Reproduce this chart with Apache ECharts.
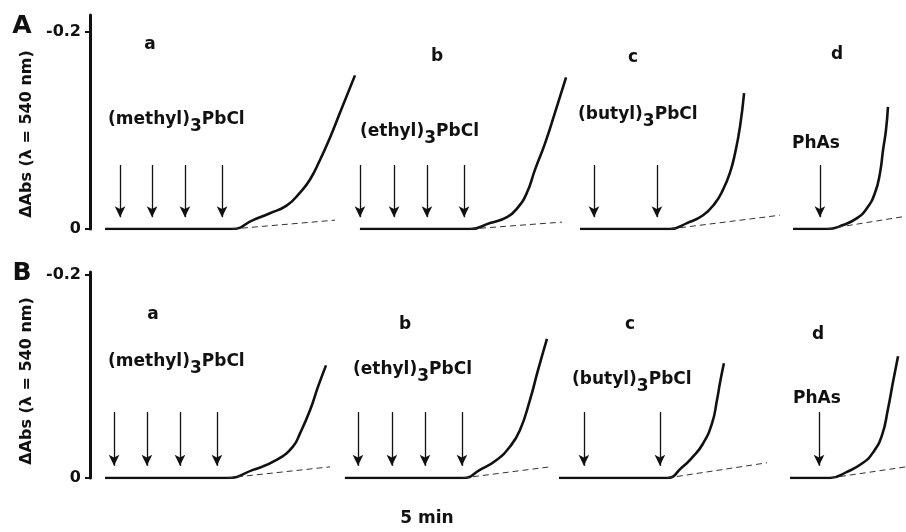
<!DOCTYPE html>
<html>
<head>
<meta charset="utf-8">
<script src="https://cdn.jsdelivr.net/npm/echarts@6/dist/echarts.min.js"></script>
<style>
  html, body { margin: 0; padding: 0; background: #fff; }
  #chart { width: 906px; height: 532px; }
</style>
</head>
<body>
<div id="chart"></div>
<script>
// time in min, ΔAbs at 540 nm (negative = up)
// panel A
const timeAa = [0.70, 6.61, 7.59, 8.38, 9.17, 9.78, 10.24, 10.71, 11.18, 11.64, 12.34]
const absAa = [0, 0, -0.009, -0.016, -0.024, -0.037, -0.050, -0.070, -0.093, -0.118, -0.156]
const timeAb = [12.57, 17.70, 18.63, 19.42, 19.93, 20.35, 20.72, 21.19, 21.65, 22.17]
const absAb = [0, 0, -0.006, -0.012, -0.022, -0.037, -0.060, -0.087, -0.118, -0.154]
const timeAc = [22.82, 27.01, 27.80, 28.55, 29.10, 29.48, 29.80, 30.04, 30.27, 30.46]
const absAc = [0, 0, -0.006, -0.014, -0.026, -0.040, -0.057, -0.077, -0.104, -0.138]
const timeAd = [32.74, 34.32, 35.07, 35.72, 36.18, 36.56, 36.79, 36.93, 37.07, 37.16]
const absAd = [0, 0, -0.004, -0.011, -0.021, -0.037, -0.057, -0.080, -0.101, -0.124]
// extrapolated blanks: [t0, t1], [abs0, abs1]
const blankTimeA = [[6.61, 11.41], [17.70, 21.98], [27.01, 32.13], [34.32, 38.0]]
const blankAbsA = [[0, -0.009], [0, -0.007], [0, -0.014], [0, -0.013]]
// additions (arrows)
const addTimeA = [1.40, 2.89, 4.42, 6.15, 12.57, 14.16, 15.69, 17.42, 23.47, 26.40, 33.99]

// panel B
const timeBa = [0.70, 6.38, 7.59, 8.71, 9.45, 9.78, 10.25, 10.62, 10.99]
const absBa = [0, 0, -0.008, -0.018, -0.031, -0.044, -0.067, -0.090, -0.111]
const timeBb = [11.87, 17.37, 18.16, 18.95, 19.56, 20.02, 20.49, 20.86, 21.28]
const absBb = [0, 0, -0.008, -0.018, -0.031, -0.047, -0.077, -0.106, -0.137]
const timeBc = [21.84, 26.87, 27.55, 28.08, 28.55, 28.97, 29.20, 29.34, 29.52]
const absBc = [0, 0, -0.010, -0.021, -0.034, -0.054, -0.077, -0.094, -0.113]
const timeBd = [32.60, 34.46, 35.25, 36.00, 36.46, 36.88, 37.16, 37.39, 37.63]
const absBd = [0, 0, -0.006, -0.015, -0.025, -0.042, -0.068, -0.094, -0.120]
const blankTimeB = [[6.38, 11.18], [17.37, 21.42], [26.87, 31.53], [34.46, 38.0]]
const blankAbsB = [[0, -0.011], [0, -0.011], [0, -0.015], [0, -0.011]]
const addTimeB = [1.12, 2.65, 4.19, 5.91, 12.48, 14.06, 15.60, 17.32, 23.00, 26.54, 33.95]

const yTicks = [0, -0.2]
const compounds = ['(methyl)', '(ethyl)', '(butyl)', 'PhAs']
const traceNames = ['a', 'b', 'c', 'd']

const FONT = 'DejaVu Sans'

function pairs(t, v) {
  return t.map((x, i) => [x, v[i]])
}

function traceSeries(t, v, gi) {
  return {
    type: 'line',
    xAxisIndex: gi,
    yAxisIndex: gi,
    data: pairs(t, v),
    smooth: 0.5,
    showSymbol: false,
    lineStyle: { color: '#111', width: 2.6 },
    silent: true
  }
}

function blankSeries(t, v, gi) {
  return {
    type: 'line',
    xAxisIndex: gi,
    yAxisIndex: gi,
    data: pairs(t, v),
    showSymbol: false,
    lineStyle: { color: '#333', width: 1, type: [6, 4] },
    silent: true
  }
}

function arrowSeries(times, top, tip, gi) {
  return {
    type: 'line',
    xAxisIndex: gi,
    yAxisIndex: gi,
    data: [],
    markLine: {
      silent: true,
      symbol: ['none', 'arrow'],
      symbolSize: [8, 11],
      label: { show: false },
      lineStyle: { color: '#111', width: 1.3, type: 'solid' },
      data: times.map(t => [{ coord: [t, top] }, { coord: [t, tip] }])
    }
  }
}

function yAxis(gi, min) {
  return {
    type: 'value',
    gridIndex: gi,
    min: min,
    max: 0,
    inverse: true,
    splitLine: { show: false },
    axisLine: { show: true, lineStyle: { color: '#111', width: 3 } },
    axisTick: { show: true, customValues: yTicks, length: 5, lineStyle: { color: '#111', width: 2 } },
    axisLabel: {
      customValues: yTicks,
      margin: 9,
      color: '#111',
      fontFamily: FONT,
      fontWeight: 'bold',
      fontSize: 16,
      formatter: v => String(v)
    }
  }
}

function xAxis(gi) {
  return { type: 'value', gridIndex: gi, min: 0, max: 38, show: false }
}

function txt(text, x, y, size, align) {
  return {
    type: 'text',
    x: x,
    y: y,
    style: {
      text: text,
      fill: '#111',
      font: 'bold ' + size + 'px "' + FONT + '"',
      align: align || 'center',
      verticalAlign: 'middle'
    }
  }
}

function compoundTxt(name, x, y) {
  const isLead = name.startsWith('(')
  return {
    type: 'text',
    x: x,
    y: y - 7,
    style: {
      text: isLead ? '{m|' + name + '}{s|3}{m|PbCl}' : '{m|' + name + '}',
      fill: '#111',
      font: 'bold 17px "' + FONT + '"',
      align: 'left',
      verticalAlign: 'top',
      rich: {
        m: { fontFamily: FONT, fontWeight: 'bold', fontSize: 17, fill: '#111', lineHeight: 20, verticalAlign: 'top' },
        s: { fontFamily: FONT, fontWeight: 'bold', fontSize: 17, fill: '#111', lineHeight: 20, padding: [7, 0, 0, 0], verticalAlign: 'top' }
      }
    }
  }
}

function yTitle(x, y) {
  return {
    type: 'text',
    x: x,
    y: y,
    rotation: Math.PI / 2,
    style: {
      text: 'ΔAbs (λ = 540 nm)',
      fill: '#111',
      font: 'bold 16px "' + FONT + '"',
      align: 'center',
      verticalAlign: 'middle'
    }
  }
}

const chart = echarts.init(document.getElementById('chart'))

const letterPosA = [[150, 45], [437, 57], [633, 58], [837, 55]]
const letterPosB = [[153, 315], [405, 325], [630, 325], [818, 335]]
const compPosA = [[108, 118], [360, 130], [578, 113], [792, 142]]
const compPosB = [[108, 360], [353, 368], [572, 378], [793, 397]]

const graphics = [
  txt('A', 22, 26, 25),
  txt('B', 22, 273, 25),
  yTitle(27, 134),
  yTitle(27, 381),
  txt('5 min', 427, 519, 17)
]
traceNames.forEach((n, i) => {
  graphics.push(txt(n, letterPosA[i][0], letterPosA[i][1], 17))
  graphics.push(txt(n, letterPosB[i][0], letterPosB[i][1], 17))
  graphics.push(compoundTxt(compounds[i], compPosA[i][0], compPosA[i][1]))
  graphics.push(compoundTxt(compounds[i], compPosB[i][0], compPosB[i][1]))
})

const series = [
  traceSeries(timeAa, absAa, 0),
  traceSeries(timeAb, absAb, 0),
  traceSeries(timeAc, absAc, 0),
  traceSeries(timeAd, absAd, 0),
  traceSeries(timeBa, absBa, 1),
  traceSeries(timeBb, absBb, 1),
  traceSeries(timeBc, absBc, 1),
  traceSeries(timeBd, absBd, 1),
  arrowSeries(addTimeA, -0.065, -0.012, 0),
  arrowSeries(addTimeB, -0.065, -0.012, 1)
]
blankTimeA.forEach((t, i) => series.push(blankSeries(t, blankAbsA[i], 0)))
blankTimeB.forEach((t, i) => series.push(blankSeries(t, blankAbsB[i], 1)))

chart.setOption({
  animation: false,
  backgroundColor: '#fff',
  grid: [
    { left: 90, right: 0, top: 15, height: 214 },
    { left: 90, right: 0, top: 272, height: 206 }
  ],
  xAxis: [xAxis(0), xAxis(1)],
  yAxis: [yAxis(0, -0.2173), yAxis(1, -0.203)],
  graphic: graphics,
  series: series
})
</script>
</body>
</html>
